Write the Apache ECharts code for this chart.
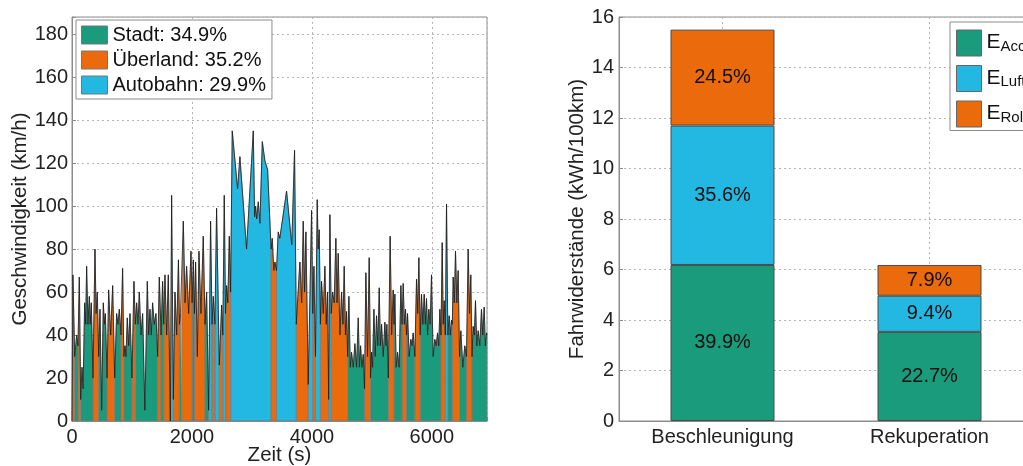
<!DOCTYPE html>
<html lang="de">
<head>
    <meta charset="UTF-8">
    <title>Fahrprofil und Fahrwiderstände</title>
    <style>
        html, body { margin: 0; padding: 0; background: #fff; }
        #chart { width: 1023px; height: 466px; }
    </style>
</head>
<body>
<div id="chart"></div>

<script type="text/javascript" src="https://cdn.jsdelivr.net/npm/echarts/dist/echarts.min.js"></script>
<script type="text/javascript">
    // linkes Diagramm: Geschwindigkeitsprofil, Senken [t, v], Spitzen [t, v, Abschnitt]
    // S = Stadt, U = Überland, A = Autobahn
    var profil = [
        [0,0],[15,68,'U'],[45,30],[78,40,'S'],[100,35],[122,67,'U'],[145,10],[167,25,'S'],[185,15],[211,55,'S'],
        [228,45],[244,72,'S'],[266,45],[289,58,'S'],[305,45],[322,55,'S'],[350,20],[383,80,'U'],[402,50],[422,60,'U'],
        [445,30],[467,52,'S'],[495,5],[522,55,'S'],[540,45],[556,50,'S'],[585,20],[611,61,'U'],[645,40],[678,63,'U'],
        [712,20],[744,50,'S'],[766,45],[789,52,'S'],[818,40],[844,71,'U'],[864,30],[883,35,'S'],[900,30],[922,48,'S'],
        [945,35],[967,50,'S'],[1000,20],[1033,65,'U'],[1055,45],[1078,55,'S'],[1100,45],[1122,60,'S'],[1150,40],[1178,50,'S'],
        [1215,5],[1256,65,'S'],[1278,40],[1300,52,'S'],[1322,40],[1344,55,'S'],[1372,45],[1400,50,'S'],[1428,30],[1456,67,'U'],
        [1485,40],[1511,65,'S'],[1530,45],[1550,68,'U'],[1578,40],[1606,68,'U'],[1640,0],[1661,105,'A'],[1690,10],[1717,60,'U'],
        [1745,40],[1775,75,'U'],[1792,45],[1808,50,'S'],[1830,50],[1856,93,'U'],[1885,55],[1911,72,'U'],[1945,50],[1984,79,'U'],
        [2003,55],[2023,75,'S'],[2042,50],[2061,74,'U'],[2090,30],[2117,79,'U'],[2150,50],[2189,86,'U'],[2218,45],[2245,60,'S'],
        [2278,5],[2311,93,'A'],[2335,45],[2356,58,'U'],[2383,45],[2411,99,'A'],[2456,26],[2495,54,'U'],[2515,40],[2539,105,'A'],
        [2560,50],[2578,63,'U'],[2598,55],[2623,86,'U'],[2645,60],[2672,135,'A'],[2761,108],[2800,123,'A'],[2911,80],[3023,135,'A'],
        [3045,95],[3062,100,'A'],[3080,94],[3106,102,'A'],[3134,92],[3173,130,'A'],[3217,121],[3262,117,'A'],[3320,80],[3339,85,'U'],
        [3365,70],[3384,74,'U'],[3410,70],[3439,88,'A'],[3465,85],[3578,107,'A'],[3665,82],[3711,126,'A'],[3740,45],[3800,74,'U'],
        [3830,55],[3856,93,'U'],[3878,60],[3900,88,'U'],[3939,17],[3995,98,'A'],[4015,50],[4034,72,'U'],[4060,30],[4089,103,'A'],
        [4105,80],[4123,89,'A'],[4142,45],[4161,65,'U'],[4190,50],[4217,72,'U'],[4240,45],[4261,60,'U'],[4280,10],[4300,96,'A'],
        [4322,50],[4345,60,'U'],[4372,55],[4400,85,'U'],[4420,55],[4439,78,'U'],[4468,40],[4495,60,'U'],[4518,45],[4539,72,'U'],
        [4560,40],[4578,51,'U'],[4597,30],[4617,58,'S'],[4640,25],[4661,32,'S'],[4690,25],[4717,36,'S'],[4745,25],[4773,48,'S'],
        [4793,25],[4812,35,'S'],[4835,25],[4856,31,'S'],[4878,15],[4900,69,'U'],[4928,30],[4956,76,'U'],[4978,20],[4995,32,'S'],
        [5012,25],[5034,52,'S'],[5056,30],[5078,49,'S'],[5100,35],[5123,62,'S'],[5142,35],[5162,45,'S'],[5190,30],[5217,46,'S'],
        [5236,35],[5250,45,'S'],[5275,20],[5305,86,'U'],[5330,40],[5356,61,'U'],[5370,45],[5384,59,'S'],[5405,25],[5428,32,'S'],
        [5455,25],[5484,63,'S'],[5503,45],[5523,64,'U'],[5542,45],[5561,52,'U'],[5578,40],[5595,50,'S'],[5622,30],[5650,38,'S'],
        [5670,35],[5689,41,'S'],[5717,30],[5745,66,'U'],[5765,50],[5784,76,'U'],[5806,40],[5828,59,'S'],[5850,45],[5873,59,'S'],
        [5892,45],[5911,57,'S'],[5930,40],[5950,52,'S'],[5972,45],[5995,68,'S'],[6022,30],[6050,38,'S'],[6072,35],[6095,41,'S'],
        [6115,35],[6134,52,'S'],[6153,40],[6173,83,'U'],[6190,45],[6206,56,'U'],[6225,40],[6245,101,'A'],[6267,40],[6289,49,'S'],
        [6308,40],[6328,47,'S'],[6342,45],[6356,67,'U'],[6375,55],[6395,79,'U'],[6417,55],[6439,70,'U'],[6462,30],[6484,42,'S'],
        [6517,25],[6550,35,'S'],[6578,30],[6606,80,'U'],[6628,50],[6650,68,'U'],[6670,30],[6689,44,'S'],[6708,40],[6728,56,'S'],
        [6750,35],[6773,42,'S'],[6800,35],[6828,52,'S'],[6850,40],[6873,53,'S'],[6892,35],[6911,41,'S'],[6920,40]
    ];
    var abschnittCodes = ['S', 'U', 'A'];
    var abschnittNamen = ['Stadt', 'Überland', 'Autobahn'];
    var abschnittAnteile = ['34.9%', '35.2%', '29.9%'];

    // rechtes Diagramm: Fahrwiderstände in kWh/100km
    var kategorien = ['Beschleunigung', 'Rekuperation'];
    var komponenten = ['Acc', 'Luft', 'Roll'];
    var eAcc = [6.18, 3.53];
    var eLuft = [5.52, 1.43];
    var eRoll = [3.80, 1.22];
    var anteilAcc = ['39.9%', '22.7%'];
    var anteilLuft = ['35.6%', '9.4%'];
    var anteilRoll = ['24.5%', '7.9%'];

    var farben = ['#1a9b7b', '#eb6a0c', '#23b8e2'];
    var balkenFarben = ['#1a9b7b', '#23b8e2', '#eb6a0c'];

    // Flaeche eines Abschnitts: jede Spitze besitzt die Strecken zur Senke davor und danach
    function flaeche(code) {
        var d = [];
        for (var i = 1; i < profil.length - 1; i++) {
            var p = profil[i];
            if (p[2] !== code) continue;
            var a = profil[i - 1], b = profil[i + 1];
            var last = d[d.length - 1];
            if (!last || last[0] !== a[0] || last[1] !== a[1]) {
                d.push([a[0], 0], [a[0], a[1]]);
            }
            d.push([p[0], p[1]], [b[0], b[1]]);
            var n = profil[i + 2];
            if (!n || n[2] !== code) d.push([b[0], 0]);
        }
        return d;
    }

    var schrift = 'Liberation Sans, Arial, sans-serif';
    var gitter = { show: true, lineStyle: { color: '#b5b5b5', type: [2, 3], width: 1 } };
    var achse = { lineStyle: { color: '#8c8c8c', width: 1 } };

    var series = [];
    abschnittCodes.forEach(function (c, k) {
        series.push({
            name: abschnittNamen[k] + ': ' + abschnittAnteile[k],
            type: 'line',
            xAxisIndex: 0, yAxisIndex: 0,
            data: flaeche(c),
            symbol: 'none',
            color: farben[k],
            lineStyle: { color: '#7a7a7a', width: 0.7 },
            areaStyle: { color: farben[k], opacity: 1 },
            z: 2
        });
    });
    series.push({
        name: 'Profil',
        type: 'line',
        xAxisIndex: 0, yAxisIndex: 0,
        data: profil.map(function (p) { return [p[0], p[1]]; }),
        symbol: 'none',
        lineStyle: { color: '#1a1a1a', width: 1, opacity: 0.75 },
        z: 3
    });
    [eAcc, eLuft, eRoll].forEach(function (werte, k) {
        var texte = [anteilAcc, anteilLuft, anteilRoll][k];
        series.push({
            name: komponenten[k],
            type: 'bar',
            xAxisIndex: 1, yAxisIndex: 1,
            stack: 'e',
            data: werte,
            barWidth: 104,
            color: balkenFarben[k],
            itemStyle: { color: balkenFarben[k], borderColor: '#4a4a4a', borderWidth: 1 },
            label: {
                show: true, position: 'inside', fontSize: 20, color: '#111', fontFamily: schrift,
                formatter: function (p) { return texte[p.dataIndex]; }
            },
            z: 2
        });
    });

    var chart = echarts.init(document.getElementById('chart'));
    chart.setOption({
        animation: false,
        textStyle: { fontFamily: schrift },
        grid: [
            { left: 72, top: 17, width: 415, height: 404, outerBoundsMode: 'none',
              show: true, borderColor: '#8c8c8c', borderWidth: 1 },
            { left: 619, top: 17, width: 414, height: 404, outerBoundsMode: 'none',
              show: true, borderColor: '#8c8c8c', borderWidth: 1 }
        ],
        legend: [
            {
                orient: 'vertical', left: 76, top: 20,
                padding: [5, 6, 4, 5], itemGap: 5, itemWidth: 26, itemHeight: 18,
                backgroundColor: '#fff', borderColor: '#8c8c8c', borderWidth: 1,
                textStyle: { fontSize: 20, color: '#111', fontFamily: schrift },
                data: abschnittNamen.map(function (n, k) {
                    return { name: n + ': ' + abschnittAnteile[k], icon: 'rect',
                        itemStyle: { color: farben[k], borderColor: '#777', borderWidth: 1 } };
                })
            },
            {
                orient: 'vertical', left: 950, top: 22,
                padding: [3, 40, 3, 6], itemGap: 4, itemWidth: 25, itemHeight: 26,
                backgroundColor: '#fff', borderColor: '#8c8c8c', borderWidth: 1,
                formatter: function (n) { return '{e|E}{s|' + n + '}'; },
                textStyle: {
                    color: '#111', fontFamily: schrift,
                    rich: {
                        e: { fontSize: 21, lineHeight: 22, verticalAlign: 'top', color: '#111' },
                        s: { fontSize: 15, lineHeight: 16, verticalAlign: 'bottom', padding: [14, 0, 0, 0], color: '#111' }
                    }
                },
                data: komponenten.map(function (n, k) {
                    return { name: n, icon: 'rect',
                        itemStyle: { color: balkenFarben[k], borderColor: '#666', borderWidth: 1 } };
                })
            }
        ],
        xAxis: [
            {
                gridIndex: 0, type: 'value', min: 0, max: 6920, interval: 2000,
                name: 'Zeit (s)', nameLocation: 'middle', nameGap: 24, nameMoveOverlap: false,
                nameTextStyle: { fontSize: 20.5, color: '#222' },
                axisLine: achse, axisTick: { inside: true, length: 4, lineStyle: { color: '#8c8c8c' } },
                axisLabel: { fontSize: 20, color: '#222', margin: 6,
                    formatter: function (v) { return v % 2000 === 0 ? v : ''; } },
                splitLine: gitter
            },
            {
                gridIndex: 1, type: 'category', data: kategorien,
                axisLine: achse, axisTick: { show: false },
                axisLabel: { fontSize: 20, color: '#222', margin: 6 },
                splitLine: { show: true, alignWithLabel: true, lineStyle: { color: '#b5b5b5', type: [2, 3], width: 1 } }
            }
        ],
        yAxis: [
            {
                gridIndex: 0, type: 'value', min: 0, max: 188, interval: 20,
                name: 'Geschwindigkeit (km/h)', nameLocation: 'middle', nameGap: 41,
                nameTextStyle: { fontSize: 20.5, color: '#222' },
                axisLine: { show: true, lineStyle: { color: '#8c8c8c' } },
                axisTick: { show: true, inside: true, length: 4, lineStyle: { color: '#8c8c8c' } },
                axisLabel: { fontSize: 20, color: '#222', margin: 4,
                    formatter: function (v) { return v % 20 === 0 ? v : ''; } },
                splitLine: gitter
            },
            {
                gridIndex: 1, type: 'value', min: 0, max: 16, interval: 2,
                name: 'Fahrwiderstände (kWh/100km)', nameLocation: 'middle', nameGap: 31,
                nameTextStyle: { fontSize: 20.5, color: '#222' },
                axisLine: { show: true, lineStyle: { color: '#8c8c8c' } },
                axisTick: { show: true, inside: true, length: 4, lineStyle: { color: '#8c8c8c' } },
                axisLabel: { fontSize: 20, color: '#222', margin: 5 },
                splitLine: gitter
            }
        ],
        series: series
    });
</script>

</body>
</html>
